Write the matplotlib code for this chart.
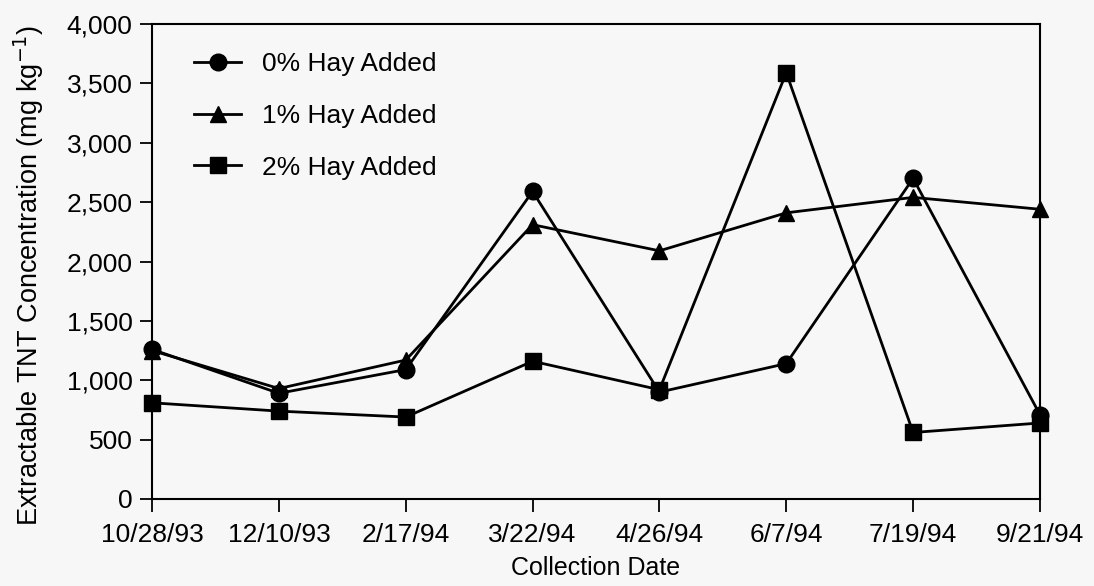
import matplotlib
matplotlib.use('Agg')
import matplotlib.pyplot as plt
from matplotlib.ticker import FuncFormatter

plt.rcParams['font.family'] = ['Liberation Sans', 'DejaVu Sans']

dates = ['10/28/93', '12/10/93', '2/17/94', '3/22/94', '4/26/94', '6/7/94', '7/19/94', '9/21/94']
hay0 = [1260, 890, 1090, 2590, 900, 1140, 2700, 710]
hay1 = [1250, 930, 1170, 2310, 2090, 2410, 2540, 2440]
hay2 = [810, 740, 690, 1160, 920, 3590, 560, 640]

bg = '#f7f7f7'
fig = plt.figure(figsize=(10.94, 5.86), dpi=100, facecolor=bg)
ax = fig.add_axes([0.139, 0.1485, 0.8116, 0.8105], facecolor=bg)

x = range(len(dates))
ax.plot(x, hay0, 'k-', marker='o', ms=12, lw=2, label='0% Hay Added', clip_on=False)
ax.plot(x, hay1, 'k-', marker='^', ms=12, lw=2, label='1% Hay Added', clip_on=False)
ax.plot(x, hay2, 'k-', marker='s', ms=11, lw=2, label='2% Hay Added', clip_on=False)

ax.set_xlim(0, len(dates) - 1)
ax.set_ylim(0, 4000)
ax.set_xticks(list(x))
ax.set_xticklabels(dates)
ax.set_yticks(range(0, 4001, 500))
ax.yaxis.set_major_formatter(FuncFormatter(lambda v, p: f'{int(v):,}'))
ax.tick_params(axis='both', direction='out', length=9, width=1.3, labelsize=19,
               colors='black', pad=5)
ax.tick_params(axis='x', pad=8)
for s in ax.spines.values():
    s.set_linewidth(1.5)

ax.set_xlabel('Collection Date', fontsize=18, labelpad=7)
ax.set_ylabel('Extractable TNT Concentration (mg kg$^{-1}$)', fontsize=19.5)
ax.yaxis.set_label_coords(-0.12, 0.47)

leg = ax.legend(loc='upper left', frameon=False, fontsize=19, handlelength=1.75,
                handletextpad=0.8, labelspacing=1.05, borderaxespad=0.4,
                bbox_to_anchor=(0.024, 0.985))

fig.savefig('out.png', dpi=100, facecolor=bg)
